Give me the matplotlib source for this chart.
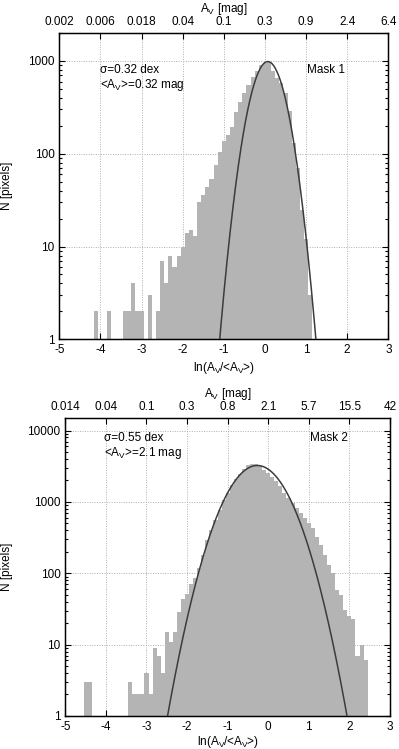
import numpy as np
import matplotlib
matplotlib.use("Agg")
import matplotlib.pyplot as plt
from matplotlib.ticker import FixedLocator, NullFormatter, LogLocator

plt.rcParams['font.family'] = ['Liberation Sans', 'DejaVu Sans']
plt.rcParams['mathtext.fontset'] = 'custom'
plt.rcParams['mathtext.rm'] = 'Liberation Sans'
plt.rcParams['mathtext.it'] = 'Liberation Sans:italic'
plt.rcParams['font.size'] = 8.5

# ---- Mask 1 histogram (bin centres in ln(A_V/<A_V>), counts) ----
m1_x = [-4.1, -3.8, -3.4, -3.3, -3.2, -3.1, -3.0, -2.8, -2.6, -2.5, -2.4, -2.3,
        -2.2, -2.1, -2.0, -1.9, -1.8, -1.7, -1.6, -1.5, -1.4, -1.3, -1.2, -1.1,
        -1.0, -0.9, -0.8, -0.7, -0.6, -0.5, -0.4, -0.3, -0.2, -0.1, 0.0, 0.1,
        0.2, 0.3, 0.4, 0.5, 0.6, 0.7, 0.8, 0.9, 1.0, 1.1]
m1_n = [2, 2, 2, 2, 4, 2, 2, 3, 2, 7, 4, 8,
        6, 8, 10, 14, 15, 13, 30, 36, 44, 53, 75, 105,
        138, 158, 192, 283, 363, 446, 550, 665, 784, 903, 960, 970,
        784, 650, 575, 455, 288, 130, 70, 25, 12, 3]
# lognormal fit: amplitude, centre, width (ln units)
m1_fit = (985, 0.07, 0.315)
m1_top_labels = ['0.002', '0.006', '0.018', '0.04', '0.1', '0.3', '0.9', '2.4', '6.4']
m1_text = ['σ=0.32 dex', '<A$_\\mathrm{V}$>=0.32 mag', 'Mask 1']

# ---- Mask 2 histogram ----
m2_x = [-4.5, -4.4, -3.4, -3.3, -3.2, -3.1, -3.0, -2.9, -2.8, -2.7, -2.6, -2.5,
        -2.4, -2.3, -2.2, -2.1, -2.0, -1.9, -1.8, -1.7, -1.6, -1.5, -1.4, -1.3,
        -1.2, -1.1, -1.0, -0.9, -0.8, -0.7, -0.6, -0.5, -0.4, -0.3, -0.2, -0.1,
        0.0, 0.1, 0.2, 0.3, 0.4, 0.5, 0.6, 0.7, 0.8, 0.9, 1.0, 1.1,
        1.2, 1.3, 1.4, 1.5, 1.6, 1.7, 1.8, 1.9, 2.0, 2.1, 2.2, 2.3, 2.4]
m2_n = [3, 3, 3, 2, 2, 2, 4, 2, 9, 7, 4, 15,
        11, 15, 29, 44, 51, 71, 85, 120, 178, 290, 400, 560,
        780, 1050, 1350, 1700, 2100, 2500, 2900, 3250, 3400, 3400, 3150, 2820,
        2530, 2270, 1940, 1670, 1330, 1120, 960, 820, 700, 600, 505, 430,
        327, 250, 181, 131, 100, 58, 50, 31, 25, 23, 7, 10, 6]
m2_fit = (3240, -0.27, 0.55)
m2_top_labels = ['0.014', '0.04', '0.1', '0.3', '0.8', '2.1', '5.7', '15.5', '42']
m2_text = ['σ=0.55 dex', '<A$_\\mathrm{V}$>=2.1 mag', 'Mask 2']

x_ticks = [-5, -4, -3, -2, -1, 0, 1, 2, 3]
bar_color = '#b4b4b4'
line_color = '#3c3c3c'


def draw_panel(ax, xs, ns, fit, top_labels, texts, ymax, ndec, text_pos, ylab_x, xlab_pad):
    ax.set_axisbelow(True)
    ax.bar(xs, ns, width=0.1, color=bar_color, linewidth=0, zorder=2)
    amp, mu, sig = fit
    xx = np.linspace(-5, 3, 600)
    ax.plot(xx, amp * np.exp(-(xx - mu) ** 2 / (2 * sig ** 2)), color=line_color,
            lw=1.1, zorder=3)
    ax.set_yscale('log')
    ax.set_xlim(-5, 3)
    ax.set_ylim(1, ymax)
    ax.set_xticks(x_ticks)
    ax.set_xticklabels([str(t) for t in x_ticks])
    majors = [10 ** i for i in range(ndec + 1)]
    ax.yaxis.set_major_locator(FixedLocator(majors))
    ax.set_yticklabels([str(m) for m in majors])
    ax.yaxis.set_minor_locator(LogLocator(base=10, subs=np.arange(2, 10)))
    ax.yaxis.set_minor_formatter(NullFormatter())
    ax.tick_params(which='both', direction='in', right=True, top=False,
                   labelsize=8.5, width=0.8)
    ax.tick_params(which='major', length=4)
    ax.tick_params(which='minor', length=2.5)
    ax.grid(True, which='major', linestyle=(0, (1, 1.5)), color='#b0b0b0', lw=0.7)
    for sp in ax.spines.values():
        sp.set_linewidth(1.0)
    ax.set_xlabel('ln(A$_\\mathrm{V}$/<A$_\\mathrm{V}$>)', fontsize=8.5, labelpad=xlab_pad)
    ax.set_ylabel('N [pixels]', fontsize=8.5)
    ax.yaxis.set_label_coords(ylab_x, 0.5)

    top = ax.twiny()
    top.set_xlim(-5, 3)
    top.set_xticks(x_ticks)
    top.set_xticklabels(top_labels)
    top.tick_params(direction='in', length=4, labelsize=8.5, width=0.8)
    top.set_xlabel('A$_\\mathrm{V}$ [mag]', fontsize=8.5, labelpad=3)

    (tx, ty1, ty2, mx) = text_pos
    ax.text(tx, ty1, texts[0], transform=ax.transAxes, va='center', ha='left', fontsize=8.5)
    ax.text(tx, ty2, texts[1], transform=ax.transAxes, va='center', ha='left', fontsize=8.5)
    ax.text(mx, ty1, texts[2], transform=ax.transAxes, va='center', ha='left', fontsize=8.5)


fig = plt.figure(figsize=(3.99, 7.49), dpi=100)
ax1 = fig.add_axes([0.1486, 0.5470, 0.8246, 0.4089])
ax2 = fig.add_axes([0.1637, 0.0441, 0.8137, 0.3978])

draw_panel(ax1, m1_x, m1_n, m1_fit, m1_top_labels, m1_text, 2000, 3,
           (0.124, 0.878, 0.830, 0.753), -0.140, 3)
draw_panel(ax2, m2_x, m2_n, m2_fit, m2_top_labels, m2_text, 15000, 4,
           (0.119, 0.932, 0.884, 0.754), -0.160, 0.5)

fig.savefig('out.png', dpi=100)
